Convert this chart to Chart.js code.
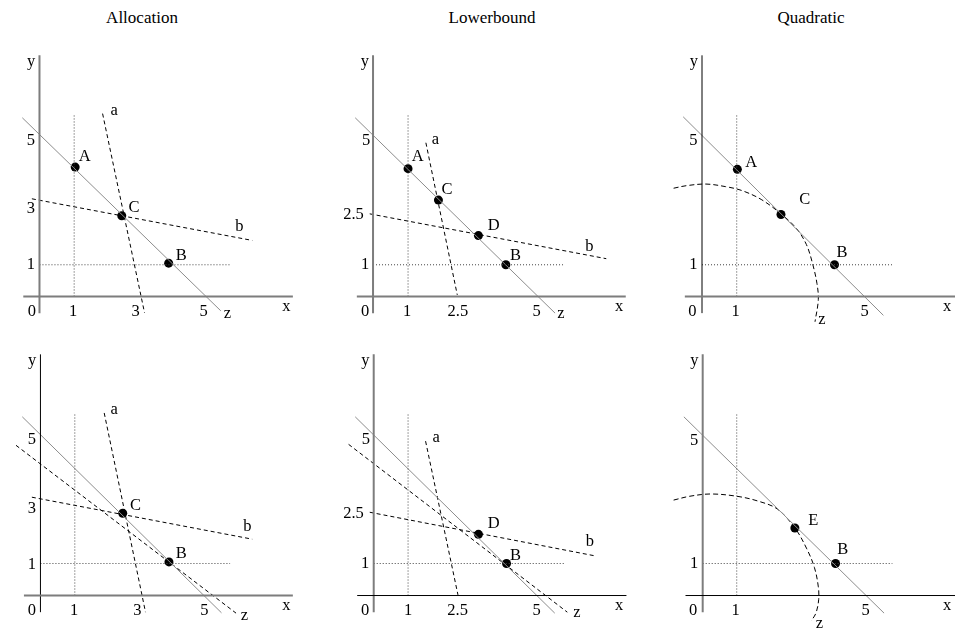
<!DOCTYPE html>
<html>
<head>
<meta charset="utf-8">
<script src="https://cdn.jsdelivr.net/npm/chart.js@4.4.0/dist/chart.umd.min.js"></script>
<style>
    body{margin:0;background:#fff;width:955px;height:634px;position:relative;overflow:hidden;font-family:"Liberation Serif",serif;}
    .title{position:absolute;top:8px;font-size:17px;transform:translateX(-50%);white-space:nowrap;}
    canvas{position:absolute;}
</style>
</head>
<body>
<div class="title" style="left:142px">Allocation</div>
<div class="title" style="left:492px">Lowerbound</div>
<div class="title" style="left:811px">Quadratic</div>
<canvas id="p1"></canvas>
<canvas id="p2"></canvas>
<canvas id="p3"></canvas>
<canvas id="p4"></canvas>
<canvas id="p5"></canvas>
<canvas id="p6"></canvas>
<script>
// ---- values (x, y in diagram units) ----

// Allocation, top
const alloc1Z = [[-0.52, 5.58], [5.49, -0.45]];
const alloc1A = [[1.91, 5.71], [3.18, -0.51]];
const alloc1B = [[-0.23, 3.05], [6.44, 1.75]];
const alloc1Points = [[1.08, 4.04], [2.49, 2.52], [3.91, 1.04]];
const alloc1XTicks = ['0', '1', '3', '5'];
const alloc1XTickAt = [-0.23, 1.02, 2.91, 4.97];
const alloc1YTicks = ['5', '3', '1'];
const alloc1YTickAt = [4.85, 2.73, 0.99];
const alloc1Labels = [['A', 1.37, 4.36], ['C', 2.86, 2.78], ['B', 4.29, 1.28], ['a', 2.26, 5.79], ['b', 6.05, 2.17], ['z', 5.69, -0.55]];

// Allocation, bottom
const alloc2Z = [[-0.55, 5.58], [5.48, -0.54]];
const alloc2A = [[1.93, 5.7], [3.18, -0.52]];
const alloc2B = [[-0.26, 3.07], [6.41, 1.76]];
const alloc2Zb = [[-0.74, 4.69], [5.92, -0.55]];
const alloc2Points = [[2.49, 2.57], [3.89, 1.05]];
const alloc2XTicks = ['0', '1', '3', '5'];
const alloc2XTickAt = [-0.26, 1.02, 2.93, 4.96];
const alloc2YTicks = ['5', '3', '1'];
const alloc2YTickAt = [4.87, 2.72, 0.96];
const alloc2Labels = [['C', 2.88, 2.8], ['B', 4.26, 1.3], ['a', 2.23, 5.79], ['b', 6.26, 2.14], ['z', 6.17, -0.64]];

// Lowerbound, top
const lower1Z = [[-0.54, 5.58], [5.51, -0.52]];
const lower1A = [[1.6, 4.8], [2.55, 0.05]];
const lower1B = [[-0.1, 2.58], [7.06, 1.18]];
const lower1Points = [[1.06, 3.99], [1.98, 3.01], [3.19, 1.9], [4.02, 0.99]];
const lower1XTicks = ['0', '1', '2.5', '5'];
const lower1XTickAt = [-0.24, 1.03, 2.57, 4.95];
const lower1YTicks = ['5', '2.5', '1'];
const lower1YTickAt = [4.85, 2.55, 0.99];
const lower1YTickX = [-0.21, -0.59, -0.24];
const lower1Labels = [['A', 1.35, 4.36], ['C', 2.24, 3.33], ['D', 3.65, 2.2], ['B', 4.31, 1.26], ['a', 1.89, 4.9], ['b', 6.55, 1.57], ['z', 5.69, -0.55]];

// Lowerbound, bottom
const lower2Z = [[-0.56, 5.58], [5.48, -0.55]];
const lower2A = [[1.57, 4.82], [2.55, 0.02]];
const lower2B = [[-0.12, 2.6], [6.74, 1.23]];
const lower2Zb = [[-0.76, 4.72], [5.86, -0.52]];
const lower2Points = [[3.17, 1.91], [4.02, 1.0]];
const lower2XTicks = ['0', '1', '2.5', '5'];
const lower2XTickAt = [-0.26, 1.04, 2.54, 4.93];
const lower2YTicks = ['5', '2.5', '1'];
const lower2YTickAt = [4.87, 2.57, 0.98];
const lower2YTickX = [-0.24, -0.61, -0.26];
const lower2Labels = [['D', 3.63, 2.24], ['B', 4.29, 1.26], ['a', 1.89, 4.92], ['b', 6.54, 1.69], ['z', 6.15, -0.55]];

// Quadratic, top
const quad1Z = [[-0.57, 5.61], [5.49, -0.59]];
const quad1Arc = [[-0.86, 3.38], [-0.47, 3.46], [0.12, 3.51], [0.71, 3.43], [1.2, 3.31], [1.79, 3.03], [2.39, 2.58],
    [2.86, 2.12], [3.16, 1.62], [3.35, 1.01], [3.48, 0.4], [3.52, -0.1], [3.42, -0.79]];
const quad1Points = [[1.07, 3.97], [2.39, 2.56], [4.01, 0.99]];
const quad1XTicks = ['0', '1', '5'];
const quad1XTickAt = [-0.29, 1.02, 4.92];
const quad1YTicks = ['5', '1'];
const quad1YTickAt = [4.87, 0.99];
const quad1Labels = [['A', 1.49, 4.19], ['C', 3.11, 3.03], ['B', 4.24, 1.36], ['z', 3.63, -0.71]];

// Quadratic, bottom
const quad2Z = [[-0.57, 5.58], [5.49, -0.55]];
const quad2Arc = [[-0.88, 2.98], [-0.39, 3.1], [0.24, 3.17], [1.03, 3.1], [1.67, 2.95], [2.26, 2.7], [2.79, 2.11],
    [3.14, 1.48], [3.38, 0.88], [3.5, 0.27], [3.51, -0.13], [3.43, -0.54], [3.29, -0.79]];
const quad2Points = [[2.79, 2.11], [4.02, 1.0]];
const quad2XTicks = ['0', '1', '5'];
const quad2XTickAt = [-0.29, 1.0, 4.93];
const quad2YTicks = ['5', '1'];
const quad2YTickAt = [4.85, 0.98];
const quad2Labels = [['E', 3.35, 2.35], ['B', 4.24, 1.43], ['z', 3.53, -0.89]];

// ---- drawing ----
const UX = 34, UY = 33;
const GRAY_AXIS = '#7d7d7d';
const FONT = '16.5px "Liberation Serif", "Times New Roman", serif';

function pts(list){
    return list.map(p => ({x: p[0], y: p[1]}));
}

function lineSet(list, color, width, dash, tension){
    return {
        data: pts(list),
        showLine: true,
        borderColor: color,
        borderWidth: width,
        borderDash: dash || [],
        pointRadius: 0,
        tension: tension || 0,
        clip: false
    };
}

function textPlugin(labels){
    return {
        id: 'texts',
        afterDatasetsDraw(chart){
            let ctx = chart.ctx;
            let xs = chart.scales.x, ys = chart.scales.y;
            ctx.save();
            ctx.fillStyle = '#000';
            ctx.font = FONT;
            ctx.textAlign = 'center';
            ctx.textBaseline = 'middle';
            labels.forEach(l => {
                ctx.fillText(l[0], xs.getPixelForValue(l[1]), ys.getPixelForValue(l[2]));
            });
            ctx.restore();
        }
    };
}

function makePanel(id, frame, p){
    let canvas = document.getElementById(id);
    canvas.width = frame.w;
    canvas.height = frame.h;
    canvas.style.left = frame.left + 'px';
    canvas.style.top = frame.top + 'px';

    let ox = frame.ox - frame.left, oy = frame.oy - frame.top;

    let datasets = [
        lineSet([[p.xAxis[0], 0], [p.xAxis[1], 0]], frame.xColor, frame.xColor === '#000' ? 1 : 2),
        lineSet([[0, -0.52], [0, 7.53]], frame.yColor, frame.yColor === '#000' ? 1 : 2),
        lineSet([[p.guideX, 0], [p.guideX, 5.71]], '#444', 1, [1, 2]),
        lineSet([[0, p.guideY], [p.guideEnd, p.guideY]], '#444', 1, [1, 2]),
        lineSet(p.z, '#8c8c8c', 1)
    ];
    (p.dashed || []).forEach(d => datasets.push(lineSet(d, '#000', 1, [4, 3])));
    if(p.arc) datasets.push(lineSet(p.arc, '#000', 1, [5, 3], 0.35));
    datasets.push({
        data: pts(p.points),
        showLine: false,
        pointRadius: 4.5,
        pointBackgroundColor: '#000',
        pointBorderColor: '#000',
        pointBorderWidth: 0,
        clip: false
    });

    let labels = p.labels.slice();
    p.xTicks.forEach((t, i) => labels.push([t, p.xTickAt[i], -0.48]));
    p.yTicks.forEach((t, i) => labels.push([t, p.yTickX ? p.yTickX[i] : -0.26, p.yTickAt[i]]));
    labels.push(['y', -0.25, 7.33]);
    labels.push(['x', p.xName, -0.33]);

    new Chart(canvas, {
        type: 'scatter',
        data: {datasets: datasets},
        options: {
            responsive: false,
            animation: false,
            events: [],
            layout: {padding: 0},
            plugins: {legend: {display: false}, tooltip: {enabled: false}},
            scales: {
                x: {type: 'linear', display: false, min: -ox / UX, max: (frame.w - ox) / UX},
                y: {type: 'linear', display: false, min: (oy - frame.h) / UY, max: oy / UY}
            }
        },
        plugins: [textPlugin(labels)]
    });
}

makePanel('p1', {left: 0, top: 28, w: 318, h: 305, ox: 36, oy: 300, xColor: GRAY_AXIS, yColor: GRAY_AXIS}, {
    xAxis: [-0.49, 7.67], guideX: 1.05, guideY: 0.99, guideEnd: 5.76,
    z: alloc1Z, dashed: [alloc1A, alloc1B], points: alloc1Points,
    xTicks: alloc1XTicks, xTickAt: alloc1XTickAt, yTicks: alloc1YTicks, yTickAt: alloc1YTickAt,
    labels: alloc1Labels, xName: 7.47
});
makePanel('p4', {left: 0, top: 328, w: 318, h: 306, ox: 37, oy: 599, xColor: GRAY_AXIS, yColor: '#000'}, {
    xAxis: [-0.5, 7.64], guideX: 1.04, guideY: 1.0, guideEnd: 5.74,
    z: alloc2Z, dashed: [alloc2A, alloc2B, alloc2Zb], points: alloc2Points,
    xTicks: alloc2XTicks, xTickAt: alloc2XTickAt, yTicks: alloc2YTicks, yTickAt: alloc2YTickAt,
    labels: alloc2Labels, xName: 7.44
});
makePanel('p2', {left: 318, top: 28, w: 318, h: 305, ox: 370, oy: 300, xColor: GRAY_AXIS, yColor: GRAY_AXIS}, {
    xAxis: [-0.49, 7.65], guideX: 1.06, guideY: 0.99, guideEnd: 5.8,
    z: lower1Z, dashed: [lower1A, lower1B], points: lower1Points,
    xTicks: lower1XTicks, xTickAt: lower1XTickAt, yTicks: lower1YTicks, yTickAt: lower1YTickAt, yTickX: lower1YTickX,
    labels: lower1Labels, xName: 7.45
});
makePanel('p5', {left: 318, top: 328, w: 318, h: 306, ox: 370.7, oy: 599, xColor: '#000', yColor: GRAY_AXIS}, {
    xAxis: [-0.5, 7.65], guideX: 1.04, guideY: 1.0, guideEnd: 5.78,
    z: lower2Z, dashed: [lower2A, lower2B, lower2Zb], points: lower2Points,
    xTicks: lower2XTicks, xTickAt: lower2XTickAt, yTicks: lower2YTicks, yTickAt: lower2YTickAt, yTickX: lower2YTickX,
    labels: lower2Labels, xName: 7.43
});
makePanel('p3', {left: 636, top: 28, w: 319, h: 305, ox: 699.3, oy: 300, xColor: GRAY_AXIS, yColor: '#000'}, {
    xAxis: [-0.52, 8.2], guideX: 1.05, guideY: 0.99, guideEnd: 5.76,
    z: quad1Z, arc: quad1Arc, points: quad1Points,
    xTicks: quad1XTicks, xTickAt: quad1XTickAt, yTicks: quad1YTicks, yTickAt: quad1YTickAt,
    labels: quad1Labels, xName: 7.42
});
makePanel('p6', {left: 636, top: 328, w: 319, h: 306, ox: 700, oy: 599, xColor: '#000', yColor: GRAY_AXIS}, {
    xAxis: [-0.52, 8.2], guideX: 1.03, guideY: 1.0, guideEnd: 5.74,
    z: quad2Z, arc: quad2Arc, points: quad2Points,
    xTicks: quad2XTicks, xTickAt: quad2XTickAt, yTicks: quad2YTicks, yTickAt: quad2YTickAt,
    labels: quad2Labels, xName: 7.4
});
</script>
</body>
</html>
